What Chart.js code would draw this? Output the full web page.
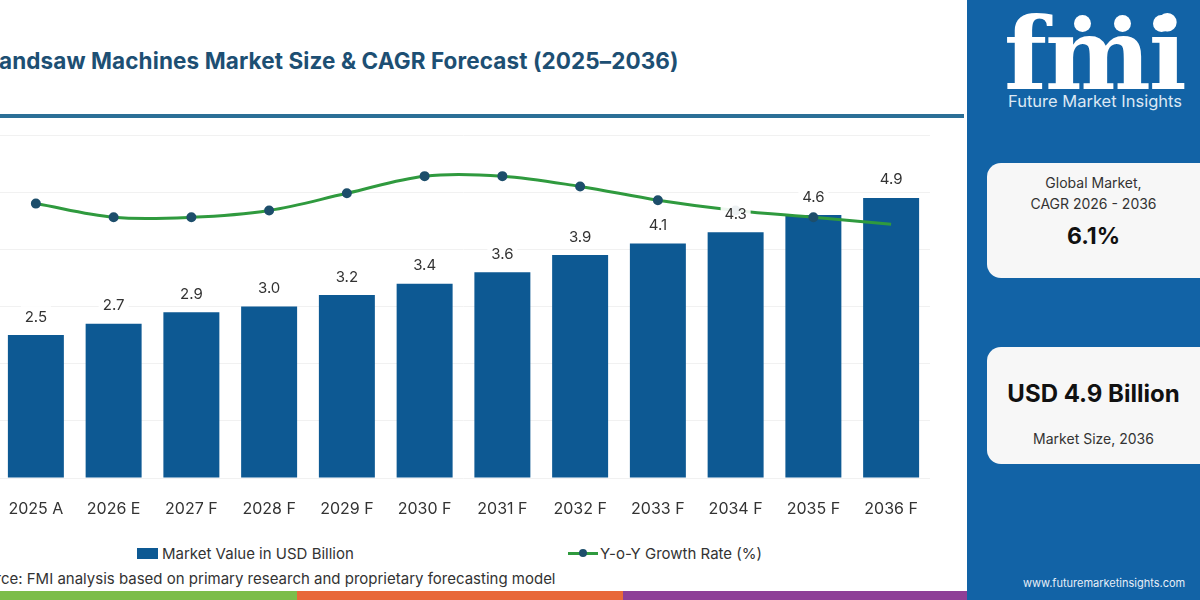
<!DOCTYPE html>
<html>
<head>
<meta charset="utf-8">
<script src="https://cdn.jsdelivr.net/npm/chart.js@4"></script>
<style>
  html, body { margin: 0; padding: 0; background: #fff; }
  body { width: 1200px; height: 600px; position: relative; overflow: hidden; font-family: Inter, "Noto Sans", sans-serif; }
  #title { position: absolute; left: -16px; top: 47px; font-size: 22.5px; font-weight: 700; color: #1d4f73; white-space: nowrap; letter-spacing: 0.1px; }
  #rule { position: absolute; left: 0; top: 114px; width: 964px; height: 4px; background: #2b6f97; }
  #chartBox { position: absolute; left: -3px; top: 135px; width: 933px; height: 393px; }
  #legend { position: absolute; top: 542px; left: 0; width: 960px; height: 22px; font-size: 15px; color: #333; }
  .lg { position: absolute; top: 0; display: flex; align-items: center; height: 22px; white-space: nowrap; }
  .lg .box { width: 21px; height: 11px; margin-right: 4px; }
  .lg .ln { position: relative; width: 30px; height: 3px; margin-right: 2px; }
  .lg .ln i { position: absolute; left: 11px; top: -3px; width: 8px; height: 8px; border-radius: 50%; }
  #source { position: absolute; left: -32px; top: 569px; font-size: 15px; color: #333; white-space: nowrap; }
  .strip { position: absolute; top: 591px; height: 9px; }
  #panel { position: absolute; left: 967px; top: 0; width: 233px; height: 600px; background: #1263a6; }
  #logo { position: absolute; left: 37px; top: 4px; font-family: "DejaVu Serif", serif; font-weight: 700; font-size: 100px; line-height: 100px; color: #fff; letter-spacing: -2px; }
  .dot { position: absolute; width: 17px; height: 17px; border-radius: 50%; background: #fff; top: 15px; }
  #fmiName { position: absolute; left: 41px; top: 91px; font-size: 16.5px; color: #dce8f4; white-space: nowrap; }
  .card { position: absolute; left: 20px; width: 240px; background: #f7f7f7; border-radius: 14px; text-align: center; color: #333; }
  .card .inner { width: 213px; }
  #url { position: absolute; left: 56px; top: 576px; font-size: 11px; color: #e6eef8; white-space: nowrap; }
</style>
</head>
<body>
<div id="title">Bandsaw Machines Market Size &amp; CAGR Forecast (2025–2036)</div>
<div id="rule"></div>
<div id="chartBox"><canvas id="chart"></canvas></div>
<div id="legend">
  <div class="lg" style="left:137px"><span class="box" style="background:#0d5993"></span>Market Value in USD Billion</div>
  <div class="lg" style="left:568px"><span class="ln" style="background:#2f9a3e"><i style="background:#1d4e6b"></i></span>Y-o-Y Growth Rate (%)</div>
</div>
<div id="source">Source: FMI analysis based on primary research and proprietary forecasting model</div>
<div class="strip" style="left:0;width:297px;background:#7cbd4a"></div>
<div class="strip" style="left:297px;width:326px;background:#e8683a"></div>
<div class="strip" style="left:623px;width:344px;background:#8e3f97"></div>
<div id="panel">
  <div id="logo">fmi</div>
  <div class="dot" style="left:107px"></div>
  <div class="dot" style="left:147px"></div>
  <div class="dot" style="left:186px"></div>
  <div id="fmiName">Future Market Insights</div>
  <div class="card" style="top:163px;height:115px">
    <div class="inner">
      <div style="padding-top:9px;font-size:14px;line-height:21px">Global Market,<br>CAGR 2026 - 2036</div>
      <div style="margin-top:8px;font-size:23px;font-weight:700;color:#111">6.1%</div>
    </div>
  </div>
  <div class="card" style="top:347px;height:117px">
    <div class="inner">
      <div style="padding-top:32px;font-size:24px;font-weight:700;color:#111">USD 4.9 Billion</div>
      <div style="margin-top:22px;font-size:14px">Market Size, 2036</div>
    </div>
  </div>
  <div id="url">www.futuremarketinsights.com</div>
</div>

<script>
// categories and series
const years = ['2025 A', '2026 E', '2027 F', '2028 F', '2029 F', '2030 F', '2031 F', '2032 F', '2033 F', '2034 F', '2035 F', '2036 F'];
const marketValue = [2.5, 2.7, 2.9, 3.0, 3.2, 3.4, 3.6, 3.9, 4.1, 4.3, 4.6, 4.9];
const yoyGrowth = [8.0, 7.6, 7.6, 7.8, 8.3, 8.8, 8.8, 8.5, 8.1, 7.8, 7.6, 7.4];

const barColor = '#0d5993';
const lineColor = '#2f9a3e';

// value labels on white boxes, drawn over the line
const valueLabels = {
    id: 'valueLabels',
    afterDatasetsDraw(chart) {
        const ctx = chart.ctx;
        const meta = chart.getDatasetMeta(1);
        ctx.save();
        ctx.font = '15px Inter, "Noto Sans", sans-serif';
        ctx.textAlign = 'center';
        ctx.textBaseline = 'middle';
        meta.data.forEach((bar, i) => {
            const txt = marketValue[i].toFixed(1);
            const y = bar.y - 18;
            ctx.fillStyle = 'rgba(255,255,255,0.92)';
            ctx.fillRect(bar.x - 15, y - 11, 30, 22);
            ctx.fillStyle = '#333';
            ctx.fillText(txt, bar.x, y);
        });
        ctx.restore();
    }
};

new Chart(document.getElementById('chart'), {
    data: {
        labels: years,
        datasets: [{
            type: 'line',
            label: 'Y-o-Y Growth Rate (%)',
            data: yoyGrowth,
            yAxisID: 'y2',
            borderColor: lineColor,
            borderWidth: 3,
            tension: 0.35,
            pointBackgroundColor: '#1d4e6b',
            pointBorderColor: '#1d4e6b',
            pointRadius: ctx => ctx.dataIndex === yoyGrowth.length - 1 ? 0 : 3.5,
            order: 0
        }, {
            type: 'bar',
            label: 'Market Value in USD Billion',
            data: marketValue,
            backgroundColor: barColor,
            categoryPercentage: 1,
            barPercentage: 0.72,
            order: 1
        }]
    },
    options: {
        responsive: true,
        maintainAspectRatio: false,
        animation: false,
        layout: { padding: 0, autoPadding: false },
        plugins: {
            legend: { display: false },
            tooltip: { enabled: false }
        },
        scales: {
            x: {
                grid: { display: false },
                border: { display: false },
                ticks: { color: '#333', padding: 14, font: { size: 16, family: 'Inter, "Noto Sans", sans-serif' } },
                afterFit: s => { s.height = 50; s.paddingLeft = 0; s.paddingRight = 0; }
            },
            y: {
                min: 0,
                max: 6,
                ticks: { display: false, stepSize: 1 },
                border: { display: false },
                grid: { color: '#f1f1f1', drawTicks: false },
                afterFit: s => { s.width = 0; s.paddingTop = 0; s.paddingBottom = 0; }
            },
            y2: {
                display: false,
                min: 0,
                max: 10
            }
        }
    },
    plugins: [valueLabels]
});
</script>
</body>
</html>
